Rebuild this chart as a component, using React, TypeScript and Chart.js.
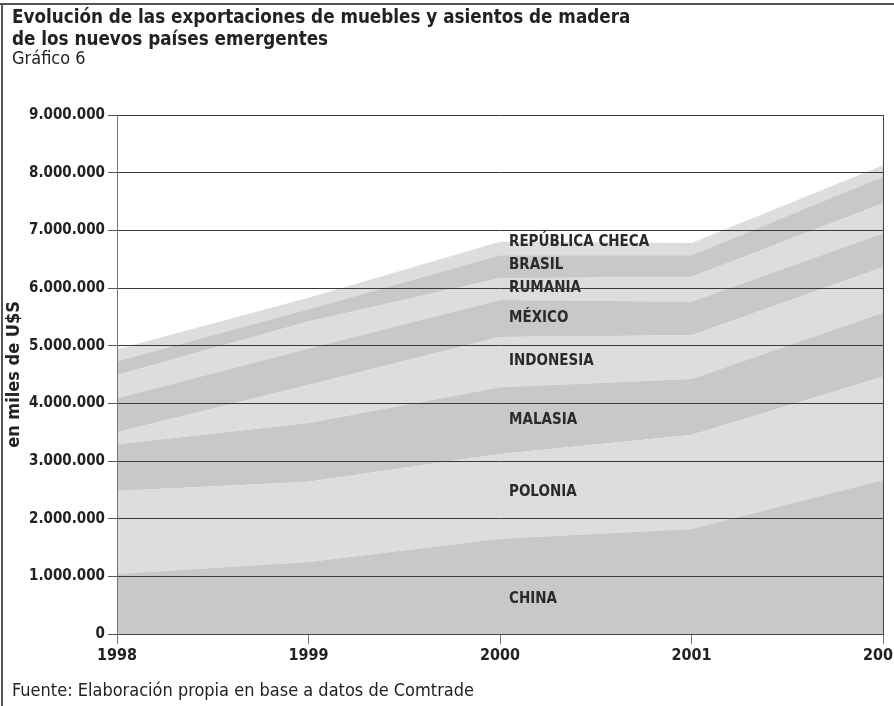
import React, { useEffect, useRef } from 'react';
import { Chart, registerables } from 'chart.js';

Chart.register(...registerables);

// Data (miles de U$S)
const years = ['1998', '1999', '2000', '2001', '2002'];
const china = [1040000, 1250000, 1650000, 1820000, 2670000];
const polonia = [1440000, 1390000, 1470000, 1630000, 1790000];
const malasia = [810000, 1020000, 1160000, 970000, 1110000];
const indonesia = [210000, 660000, 870000, 760000, 790000];
const mexico = [590000, 630000, 640000, 580000, 590000];
const rumania = [400000, 470000, 380000, 430000, 520000];
const brasil = [240000, 210000, 400000, 380000, 460000];
const checa = [210000, 200000, 230000, 210000, 200000];
const seriesNames = ['CHINA', 'POLONIA', 'MALASIA', 'INDONESIA', 'MÉXICO', 'RUMANIA', 'BRASIL', 'REPÚBLICA CHECA'];
const seriesValues = [china, polonia, malasia, indonesia, mexico, rumania, brasil, checa];
// label anchor values (y, in data units) placed at the 2000 category
const labelValues = [610000, 2460000, 3710000, 4730000, 5480000, 6000000, 6400000, 6800000];
const labelYearIndex = 2;
const yMax = 9000000;
const yStep = 1000000;

const FONT = "'Liberation Sans Narrow', 'DejaVu Sans Condensed', 'Liberation Sans', sans-serif";
const DARK = '#c7c8ca';
const LIGHT = '#dcdddf';

const fmt = (v: number) => String(Math.round(v)).replace(/\B(?=(\d{3})+(?!\d))/g, '.');

const areaLabels = {
  id: 'areaLabels',
  afterDatasetsDraw(chart: any) {
    const { ctx, scales } = chart;
    const x = scales.x.getPixelForValue(labelYearIndex) + 9;
    ctx.save();
    ctx.font = `bold 15px ${FONT}`;
    ctx.fillStyle = '#2a2a2a';
    ctx.textAlign = 'left';
    ctx.textBaseline = 'middle';
    seriesNames.forEach((n, i) => {
      ctx.fillText(n, x, scales.y.getPixelForValue(labelValues[i]));
    });
    ctx.restore();
  },
};

export default function App() {
  const ref = useRef<HTMLCanvasElement>(null);
  useEffect(() => {
    if (!ref.current) return;
    const chart = new Chart(ref.current, {
      type: 'line',
      data: {
        labels: years,
        datasets: seriesValues.map((vals, i) => ({
          label: seriesNames[i],
          data: vals,
          fill: i === 0 ? 'origin' : '-1',
          backgroundColor: i % 2 === 0 ? DARK : LIGHT,
          borderWidth: 0,
          borderColor: 'rgba(0,0,0,0)',
          pointRadius: 0,
          tension: 0,
        })),
      },
      options: {
        animation: false,
        responsive: false,
        maintainAspectRatio: false,
        layout: { padding: { left: 0, right: 11, top: 115, bottom: 32 } },
        plugins: { legend: { display: false }, tooltip: { enabled: false }, title: { display: false } },
        scales: {
          x: {
            afterFit: (s: any) => {
              s.height = 40;
              s.paddingLeft = 0;
              s.paddingRight = 0;
            },
            offset: false,
            border: { display: true, color: '#444', width: 1, z: 2 },
            grid: {
              z: 1,
              drawOnChartArea: true,
              color: (c: any) => (c.index === years.length - 1 ? '#444' : 'rgba(0,0,0,0)'),
              tickColor: '#777',
              tickLength: 10,
            },
            ticks: { color: '#222', font: { family: FONT, size: 16, weight: 'bold' }, padding: 2, maxRotation: 0 },
          },
          y: {
            stacked: true,
            min: 0,
            max: yMax,
            afterFit: (s: any) => {
              s.width = 117;
            },
            border: { display: true, color: '#777', width: 1, z: 2 },
            grid: { z: 1, color: '#3a3a3a', lineWidth: 1, tickLength: 9, tickColor: '#555' },
            ticks: {
              stepSize: yStep,
              color: '#222',
              padding: 3,
              font: { family: FONT, size: 15, weight: 'bold' },
              callback: (v: any) => fmt(Number(v)),
            },
            title: {
              display: true,
              text: 'en miles de U$S',
              color: '#222',
              font: { family: FONT, size: 18, weight: 'bold' },
              padding: { top: 4, bottom: 0 },
            },
          },
        },
      },
      plugins: [areaLabels],
    });
    return () => chart.destroy();
  }, []);

  return (
    <div style={{ position: 'absolute', left: 0, top: 0, width: 894, height: 706, background: '#fff', overflow: 'hidden' }}>
      <div style={{ position: 'absolute', left: 0, top: 3, width: 894, height: 2, background: '#555' }} />
      <div style={{ position: 'absolute', left: 1, top: 3, width: 2, height: 703, background: '#555' }} />
      <canvas ref={ref} width={894} height={706} style={{ position: 'absolute', left: 0, top: 0 }} />
      <div style={{ position: 'absolute', left: 12, top: 6, fontFamily: FONT, fontWeight: 'bold', fontSize: 18.7, lineHeight: '22px', color: '#222' }}>
        Evolución de las exportaciones de muebles y asientos de madera
        <br />
        de los nuevos países emergentes
      </div>
      <div style={{ position: 'absolute', left: 12, top: 48, fontFamily: FONT, fontSize: 18, lineHeight: '20px', color: '#222' }}>
        Gráfico 6
      </div>
      <div style={{ position: 'absolute', left: 12, top: 679, fontFamily: FONT, fontSize: 18, lineHeight: '22px', color: '#222' }}>
        Fuente: Elaboración propia en base a datos de Comtrade
      </div>
    </div>
  );
}
